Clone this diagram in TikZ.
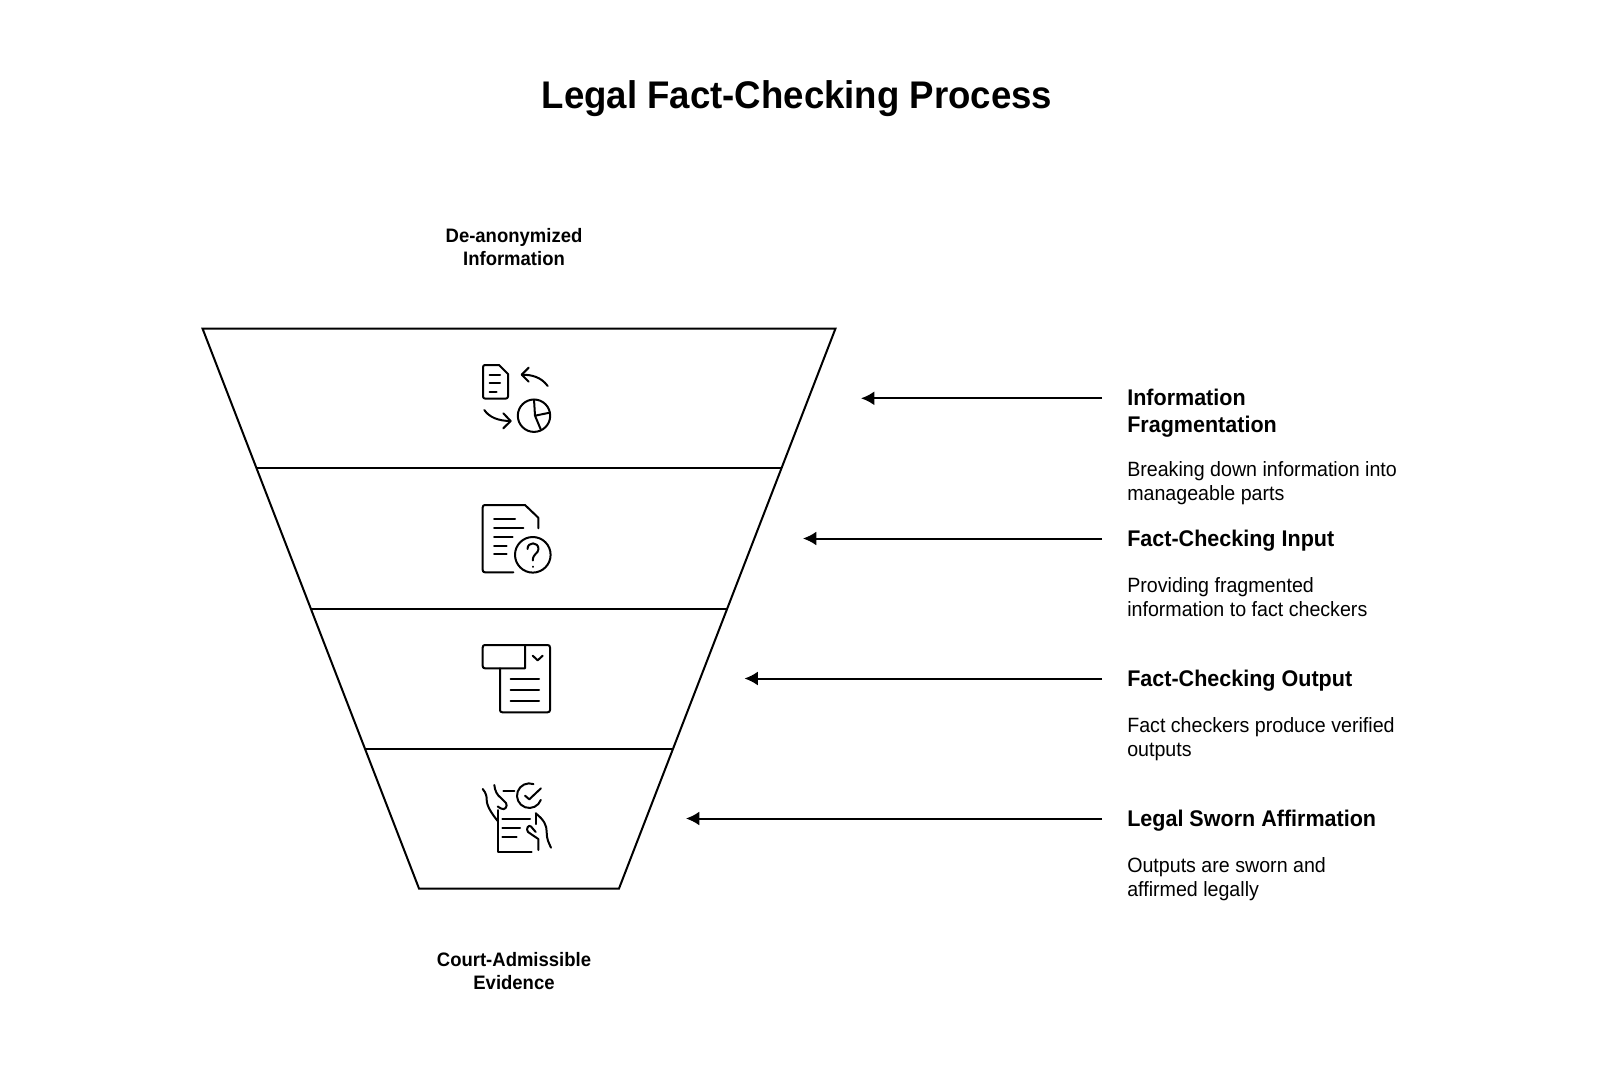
\documentclass[tikz,border=0pt]{standalone}
\usepackage{fontspec}
\setmainfont{Liberation Sans}[FakeStretch=0.95]
\usetikzlibrary{arrows.meta}
\tikzset{
  x=0.75pt,y=-0.75pt,
  funnel/.style={draw=black,line width=1.5pt,line join=miter},
  divider/.style={draw=black,line width=1.8pt},
  conn/.style={draw=black,line width=1.5pt,-{Latex[length=10pt,width=10.5pt]}},
  icon/.style={draw=black,line width=1.5pt,line cap=round,line join=round},
  titletext/.style={inner sep=0pt,font=\fontsize{28.9}{34}\selectfont\bfseries},
  sidetext/.style={inner sep=0pt,align=center,font=\fontsize{14.6}{17.4}\selectfont\bfseries},
  headtext/.style={inner sep=0pt,anchor=west,align=left,font=\fontsize{17}{20}\selectfont\bfseries},
  desctext/.style={inner sep=0pt,anchor=west,align=left,font=\fontsize{15.5}{17.9}\selectfont},
}
\begin{document}
\begin{tikzpicture}
\useasboundingbox[fill=white] (0,0) rectangle (1612,1066);
\node[titletext] (title) at (797,99) {Legal Fact-Checking Process};
\node[sidetext] (top) at (514,247) {De-anonymized\\Information};
\node[sidetext] (bottom) at (514,971) {Court-Admissible\\Evidence};
% funnel
\draw[funnel] (202.5,328.5) -- (835.5,328.5) -- (619,888.5) -- (419,888.5) -- cycle;
\draw[divider] (255.5,468.2) -- (781.5,468.2);
\draw[divider] (311,608.7) -- (727,608.7);
\draw[divider] (365.5,748.7) -- (673,748.7);
% right column
\node[headtext] (h1) at (1127,413.5) {Information\\Fragmentation};
\node[desctext] (d1) at (1127,483) {Breaking down information into\\manageable parts};
\node[headtext] (h2) at (1127,540.5) {Fact-Checking Input};
\node[desctext] (d2) at (1127,597) {Providing fragmented\\information to fact checkers};
\node[headtext] (h3) at (1127,681) {Fact-Checking Output};
\node[desctext] (d3) at (1127,739.5) {Fact checkers produce verified\\outputs};
\node[headtext] (h4) at (1127,821) {Legal Sworn Affirmation};
\node[desctext] (d4) at (1127,879.5) {Outputs are sworn and\\affirmed legally};
% connectors
\coordinate (a1s) at (1102,398.3); \coordinate (a1e) at (861,398.3);
\coordinate (a2s) at (1102,538.5); \coordinate (a2e) at (803,538.5);
\coordinate (a3s) at (1102,678.5); \coordinate (a3e) at (744.5,678.5);
\coordinate (a4s) at (1102,818.5); \coordinate (a4e) at (686,818.5);
\draw[conn] (a1s) -- (a1e);
\draw[conn] (a2s) -- (a2e);
\draw[conn] (a3s) -- (a3e);
\draw[conn] (a4s) -- (a4e);
% icon 1
\draw[icon] (485,365) -- (499,365) -- (508,374) -- (508,396.5) .. controls (508,398) and (507,398.5) .. (506,398.5) -- (485,398.5) .. controls (484,398.5) and (483,398) .. (483,396.5) -- (483,367) .. controls (483,366) and (484,365) .. (485,365);
\draw[icon] (489.5,375) -- (500,375) (489.5,383.2) -- (500,383.2) (489.5,391.5) -- (496.5,391.5);
\draw[icon] (547.7,386) .. controls (541,377) and (532,374.7) .. (521.7,374.7);
\draw[icon] (528.7,367.7) -- (521.7,374.7) -- (528.7,381.7);
\draw[icon] (484.3,410) .. controls (489,417) and (498,421) .. (510.7,421);
\draw[icon] (503.3,413.3) -- (510.7,421) -- (503.3,428.3);
\draw[icon] (534,415.7) circle [radius=16.2];
\draw[icon] (534,399.5) -- (535,415.7) -- (549.6,412.7) (535,415.7) -- (541,430);
% icon 2
\draw[icon] (513.3,572.3) -- (485,572.3) .. controls (483.5,572.3) and (482.7,571.5) .. (482.7,570) -- (482.7,507.3) .. controls (482.7,505.8) and (483.5,505) .. (485,505) -- (525,505) -- (538.3,517.7) -- (538.3,528.3);
\draw[icon] (494,519) -- (515,519) (494,527.7) -- (523.3,527.7) (494,536.7) -- (512.7,536.7) (494,545.7) -- (506.7,545.7) (494,554.3) -- (506.7,554.3);
\draw[icon] (532.8,554.8) circle [radius=17.8];
\draw[icon] (527.5,549) .. controls (527.5,541.5) and (538.5,541.5) .. (538.5,549) .. controls (538.5,553.5) and (532.8,553.5) .. (532.8,560.5);
\draw[icon] (532.8,566.5) -- (532.8,566.8);
% icon 3
\draw[icon] (485,645) -- (547.5,645) .. controls (549.2,645) and (550,645.8) .. (550,647.5) -- (550,710) .. controls (550,711.5) and (549.2,712.3) .. (547.5,712.3) -- (502.5,712.3) .. controls (500.8,712.3) and (500,711.5) .. (500,710) -- (500,668.3);
\draw[icon] (525,645) -- (525,668.3) -- (485,668.3) .. controls (483.5,668.3) and (482.7,667.5) .. (482.7,666) -- (482.7,647.5) .. controls (482.7,645.8) and (483.5,645) .. (485,645);
\draw[icon] (532.7,655.7) -- (537.7,660.3) -- (542.7,655.7);
\draw[icon] (510.7,679.3) -- (539,679.3) (510.7,690) -- (539,690) (510.7,700.7) -- (539,700.7);
% icon 4
\draw[icon] (503.3,790.7) -- (514.3,790.7);
\draw[icon] (533.5,784.1) arc [start angle=-70,end angle=-340,radius=12.3];
\draw[icon] (525,795.7) -- (529.3,799.3) -- (541,788.3);
\draw[icon] (482.7,789) .. controls (486,793) and (486.7,796) .. (486.7,800) .. controls (486.7,806) and (492,814) .. (497.7,821);
\draw[icon] (494.3,785) .. controls (495,791) and (497,795) .. (501,798) -- (506,803) .. controls (508,806) and (505,811) .. (501,808.5) -- (497.7,806.5);
\draw[icon] (497.7,810) -- (497.7,852.3) -- (531.7,852.3);
\draw[icon] (502.3,819.3) -- (530,819.3) (502.3,828.3) -- (520,828.3) (502.3,837.3) -- (516.7,837.3);
\draw[icon] (535.7,813.3) .. controls (544,820) and (546.7,825) .. (546.7,832) .. controls (546.7,840) and (549,843) .. (551,847.7);
\draw[icon] (535.7,813.3) -- (535.7,824);
\draw[icon] (538.3,850) -- (538.3,839) -- (528,832) .. controls (525.5,829) and (528.5,824) .. (531,826.5) -- (535.7,832);
\end{tikzpicture}
\end{document}
